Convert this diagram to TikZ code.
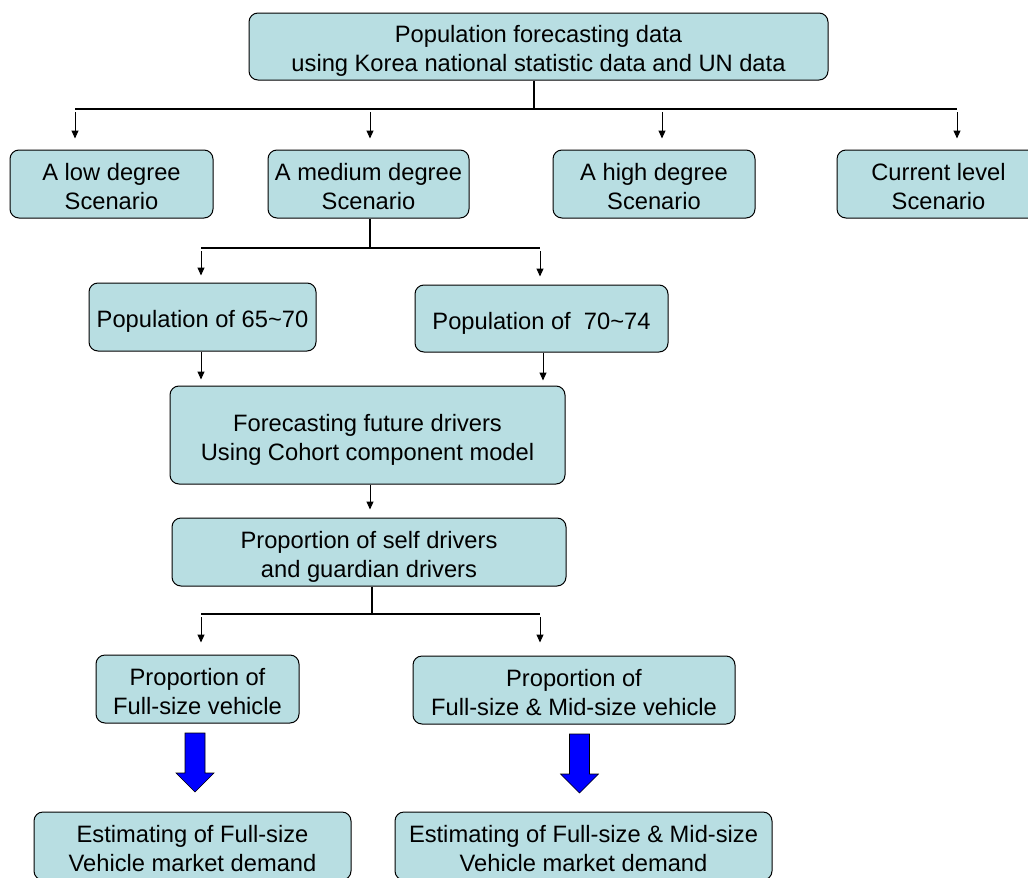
\documentclass[tikz,border=0pt]{standalone}
\usepackage{fontspec}
\setmainfont{Liberation Sans}
\usetikzlibrary{arrows.meta}
\definecolor{boxfill}{RGB}{184,222,226}
\definecolor{bigblue}{RGB}{0,0,255}
\newcommand\boxtext[1]{\raisebox{-5pt}[\height][\depth]{\begin{tabular}{@{}c@{}}#1\end{tabular}}}
\begin{document}
\begin{tikzpicture}[x=1pt,y=-1pt,
  box/.style={draw=black, line width=1pt, fill=boxfill, rounded corners=9pt, inner sep=0pt, font=\fontsize{23.7}{29}\selectfont},
  link/.style={line width=1.3pt},
  arr/.style={line width=1pt, -{Triangle[length=8pt,width=7pt]}},
  fat/.style={draw=black, line width=0.6pt, fill=bigblue},
  bluearrow/.pic={\filldraw[fat] (-10,0) -- (10,0) -- (10,40) -- (19,40) -- (0,59) -- (-19,40) -- (-10,40) -- cycle;}
]
\useasboundingbox (0,0) rectangle (1028,878);
\clip (0,0) rectangle (1028,878);

% boxes
\node[box, minimum width=579pt, minimum height=67pt] (src) at (538.5,46.5) {\boxtext{Population forecasting data\\using Korea national statistic data and UN data}};
\node[box, minimum width=203pt, minimum height=68pt] (low) at (111.5,184) {\boxtext{A low degree\\Scenario}};
\node[box, minimum width=201pt, minimum height=68pt] (med) at (368.5,184) {\boxtext{A medium degree\\Scenario}};
\node[box, minimum width=202pt, minimum height=68pt] (high) at (654,184) {\boxtext{A high degree\\Scenario}};
\node[box, minimum width=203pt, minimum height=68pt] (cur) at (938.5,184) {\boxtext{Current level\\Scenario}};
\node[box, minimum width=227pt, minimum height=68pt] (pa) at (202.5,317) {\boxtext{Population of 65\textasciitilde70}};
\node[box, minimum width=253pt, minimum height=67pt] (pb) at (541.5,318.5) {\boxtext{Population of\ \ 70\textasciitilde74}};
\node[box, minimum width=395pt, minimum height=98pt] (fc) at (367.5,435) {\boxtext{Forecasting future drivers\\Using Cohort component model}};
\node[box, minimum width=394pt, minimum height=68pt] (ps) at (369,552) {\boxtext{Proportion of self drivers\\and guardian drivers}};
\node[box, minimum width=203pt, minimum height=68pt] (pf) at (197.5,689) {\boxtext{Proportion of\\Full-size vehicle}};
\node[box, minimum width=322pt, minimum height=68pt] (pm) at (574,690) {\boxtext{Proportion of\\Full-size \& Mid-size vehicle}};
\node[box, minimum width=317pt, minimum height=68pt] (ef) at (192.5,846) {\boxtext{Estimating of Full-size\\Vehicle market demand}};
\node[box, minimum width=377pt, minimum height=68pt] (em) at (583.5,846) {\boxtext{Estimating of Full-size \& Mid-size\\Vehicle market demand}};

% first bus
\coordinate (bus) at (534,109);
\coordinate (busA) at (75,109);
\coordinate (busB) at (370,109);
\coordinate (busC) at (662,109);
\coordinate (busD) at (957,109);
\draw[link] (src.south -| bus) -- (bus);
\draw[link] (busA) -- (busD);
\draw[arr, shorten <=3pt, shorten >=11pt] (busA) -- (busA |- low.north);
\draw[arr, shorten <=3pt, shorten >=11pt] (busB) -- (busB |- med.north);
\draw[arr, shorten <=3pt, shorten >=11pt] (busC) -- (busC |- high.north);
\draw[arr, shorten <=3pt, shorten >=11pt] (busD) -- (busD |- cur.north);

% second bus
\coordinate (b2) at (370,248);
\coordinate (b2A) at (201,248);
\coordinate (b2B) at (540,248);
\draw[link] (med.south -| b2) -- (b2);
\draw[link] (b2A) -- (b2B);
\draw[arr, shorten <=3pt, shorten >=7pt] (b2A) -- (b2A |- pa.north);
\draw[arr, shorten <=3pt, shorten >=8pt] (b2B) -- (b2B |- pb.north);

% pops to forecasting
\coordinate (pax) at (201,0);
\coordinate (pbx) at (543,0);
\draw[arr, shorten >=6pt] (pa.south -| pax) -- (fc.north -| pax);
\draw[arr, shorten >=5pt] (pb.south -| pbx) -- (fc.north -| pbx);

% forecasting to proportion
\coordinate (fcx) at (370,0);
\draw[arr, shorten >=8pt] (fc.south -| fcx) -- (ps.north -| fcx);

% third bus
\coordinate (b3) at (372,614);
\coordinate (b3A) at (201,614);
\coordinate (b3B) at (540,614);
\draw[link] (ps.south -| b3) -- (b3);
\draw[link] (b3A) -- (b3B);
\draw[arr, shorten <=3pt, shorten >=12pt] (b3A) -- (b3A |- pf.north);
\draw[arr, shorten <=3pt, shorten >=13pt] (b3B) -- (b3B |- pm.north);

% block arrows
\pic at (195,733) {bluearrow};
\pic at (579.5,734) {bluearrow};
\end{tikzpicture}
\end{document}
